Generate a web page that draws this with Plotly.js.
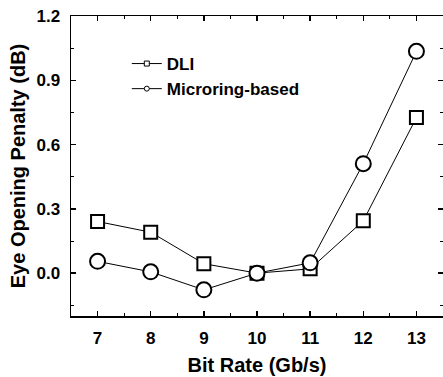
<!DOCTYPE html>
<html><head><meta charset="utf-8">
<script src="https://cdn.plot.ly/plotly-3.0.1.min.js"></script>
<style>html,body{margin:0;padding:0;overflow:hidden;background:#fff}</style>
</head><body><div id="chart" style="width:443px;height:377px"></div>
<script>
const bitRate = [7, 8, 9, 10, 11, 12, 13];
const dli = [0.241, 0.191, 0.044, 0.0, 0.02, 0.244, 0.726];
const microring = [0.055, 0.006, -0.078, 0.0, 0.048, 0.511, 1.035];
const xTicks = [7, 8, 9, 10, 11, 12, 13];
const yTicks = [0.0, 0.3, 0.6, 0.9, 1.2];
const yTickText = ['0.0', '0.3', '0.6', '0.9', '1.2'];

const FONT = 'Liberation Sans, Arial, sans-serif';
const traces = [
  {x: bitRate, y: dli, mode: 'lines+markers', name: 'DLI', showlegend: false,
   line: {color: '#000', width: 1}, marker: {symbol: 'square', size: 13, color: '#fff', line: {color: '#000', width: 2}}},
  {x: bitRate, y: microring, mode: 'lines+markers', name: 'Microring-based', showlegend: false,
   line: {color: '#000', width: 1}, marker: {symbol: 'circle', size: 15, color: '#fff', line: {color: '#000', width: 2}}},
  {x: [null], y: [null], mode: 'lines+markers', name: 'DLI', showlegend: true,
   line: {color: '#000', width: 1}, marker: {symbol: 'square', size: 5, color: '#fff', line: {color: '#000', width: 1}}},
  {x: [null], y: [null], mode: 'lines+markers', name: 'Microring-based', showlegend: true,
   line: {color: '#000', width: 1}, marker: {symbol: 'circle', size: 5, color: '#fff', line: {color: '#000', width: 1}}}
];

const layout = {
  width: 443, height: 377,
  margin: {l: 71, r: 0, t: 16, b: 61},
  paper_bgcolor: '#fff', plot_bgcolor: '#fff',
  font: {family: FONT, color: '#000', size: 13},
  showlegend: true,
  legend: {x: 0.15, y: 0.9, xanchor: 'left', yanchor: 'top', bgcolor: 'rgba(0,0,0,0)',
    font: {family: FONT, size: 17, color: '#000', weight: 'bold'}, itemwidth: 30, tracegroupgap: 0},
  xaxis: {range: [6.5, 13.5], tickvals: xTicks, ticks: 'inside', ticklen: 5, tickwidth: 1.3,
    tickcolor: '#000', showline: true, mirror: 'ticks', linecolor: '#000', linewidth: 1.5, showgrid: false, zeroline: false,
    tickfont: {family: FONT, size: 17, weight: 'bold'}, ticklabelstandoff: 6,
    minor: {dtick: 0.5, tick0: 6.5, ticks: 'inside', ticklen: 3, tickcolor: '#000', tickwidth: 1},
    title: {text: 'Bit Rate (Gb/s)', font: {family: FONT, size: 20, weight: 'bold'}, standoff: 11}},
  yaxis: {range: [-0.2, 1.2], tickvals: yTicks, ticktext: yTickText, ticks: 'inside', ticklen: 5, tickwidth: 1.3,
    tickcolor: '#000', showline: true, mirror: 'ticks', linecolor: '#000', linewidth: 1.5, showgrid: false, zeroline: false,
    tickfont: {family: FONT, size: 17, weight: 'bold'}, ticklabelstandoff: 6,
    minor: {dtick: 0.15, tick0: 0, ticks: 'inside', ticklen: 3, tickcolor: '#000', tickwidth: 1},
    title: {text: 'Eye Opening Penalty (dB)', font: {family: FONT, size: 20, weight: 'bold'}, standoff: 5}}
};
Plotly.newPlot('chart', traces, layout, {displayModeBar: false, staticPlot: true});
</script></body></html>
